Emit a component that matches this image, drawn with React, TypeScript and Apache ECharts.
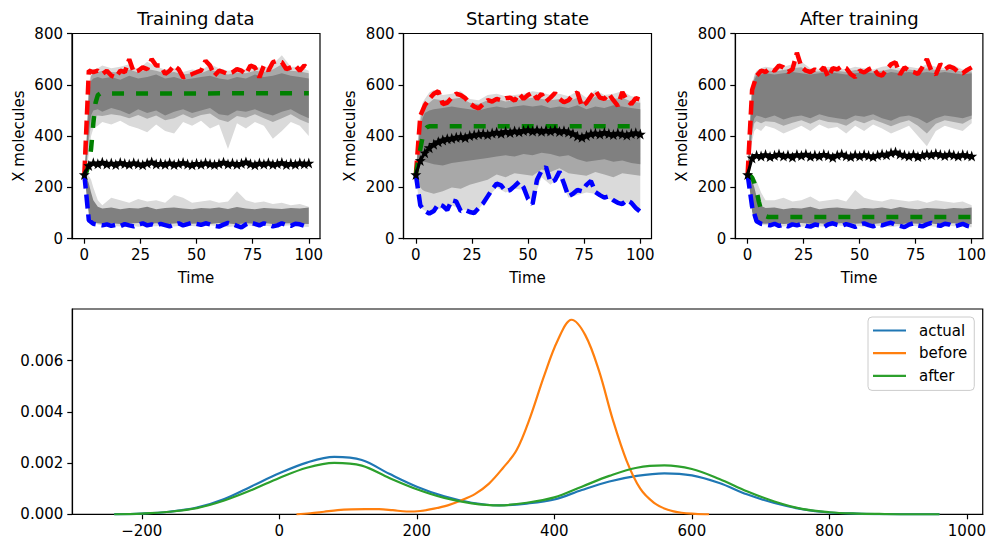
import { useEffect, useRef } from 'react';
import * as echarts from 'echarts';

const FONT = 'DejaVu Sans';

// ---- time grids -------------------------------------------------------------
const TIME = [0, 2, 4, 6, 8, 10, 12, 14, 16, 18, 20, 22, 24, 26, 28, 30, 32, 34, 36, 38, 40, 42, 44, 46, 48, 50, 52, 54, 56, 58, 60, 62, 64, 66, 68, 70, 72, 74, 76, 78, 80, 82, 84, 86, 88, 90, 92, 94, 96, 98, 100];
const BAND_TIME = [0, 1, 2, 3, 4, 6, 8, 12, 16, 20, 24, 28, 32, 36, 40, 44, 48, 52, 56, 60, 64, 68, 72, 76, 80, 84, 88, 92, 96, 100];

const TIME_TICKS = [0, 25, 50, 75, 100];
const MOLECULE_TICKS = [0, 200, 400, 600, 800];

// ---- Training data ------------------------------------------------------------
const TRAIN_MAX = [250, 655, 649, 655, 642, 655, 636, 629, 655, 649, 700, 649, 655, 668, 661, 700, 675, 675, 642, 655, 675, 661, 629, 636, 642, 649, 655, 694, 675, 636, 655, 649, 642, 649, 661, 655, 642, 675, 668, 629, 675, 655, 688, 694, 688, 661, 668, 675, 655, 675, 661];
const TRAIN_MIN = [250, 72, 58, 55, 52, 56, 50, 54, 49, 57, 52, 48, 55, 60, 52, 56, 50, 58, 53, 48, 55, 60, 52, 57, 62, 58, 54, 60, 56, 50, 47, 55, 62, 57, 50, 44, 56, 63, 58, 52, 60, 55, 48, 52, 60, 54, 50, 58, 56, 50, 47];
const TRAIN_MEAN = [250, 285, 296, 292, 298, 291, 295, 289, 297, 293, 290, 296, 292, 288, 295, 299, 291, 294, 290, 296, 289, 293, 297, 291, 288, 294, 290, 296, 292, 289, 293, 298, 291, 295, 290, 294, 299, 292, 288, 295, 291, 296, 290, 293, 297, 289, 294, 290, 296, 292, 295];
const TRAIN_ODE_T = [0, 1, 2, 3, 4, 5, 6, 7, 100];
const TRAIN_ODE = [250, 262, 290, 350, 450, 530, 560, 566, 567];
const TRAIN_UP_OUTER_LO = [250, 270, 330, 400, 430, 440, 455, 445, 460, 440, 430, 415, 445, 420, 410, 455, 440, 460, 430, 445, 350, 450, 430, 455, 440, 390, 420, 455, 440, 400];
const TRAIN_UP_OUTER_HI = [250, 400, 600, 650, 660, 665, 675, 665, 670, 680, 660, 690, 670, 660, 665, 650, 660, 655, 680, 665, 655, 660, 660, 670, 665, 680, 715, 670, 670, 655];
const TRAIN_UP_MID_LO = [250, 285, 380, 450, 475, 480, 478, 485, 480, 470, 482, 468, 480, 462, 470, 485, 470, 482, 488, 465, 455, 478, 472, 485, 470, 455, 470, 485, 465, 450];
const TRAIN_UP_MID_HI = [250, 380, 585, 635, 645, 650, 655, 650, 648, 660, 648, 662, 655, 645, 650, 640, 645, 645, 660, 648, 640, 648, 645, 655, 650, 660, 680, 655, 652, 645];
const TRAIN_UP_CORE_LO = [250, 300, 420, 480, 500, 505, 495, 510, 500, 485, 505, 490, 500, 480, 495, 505, 490, 500, 510, 485, 480, 500, 495, 505, 490, 480, 495, 505, 485, 470];
const TRAIN_UP_CORE_HI = [250, 360, 560, 615, 625, 630, 625, 630, 620, 635, 625, 630, 640, 625, 630, 620, 625, 630, 635, 625, 620, 630, 625, 640, 630, 635, 645, 635, 630, 625];
const TRAIN_DN_OUTER_LO = [250, 200, 110, 75, 62, 55, 52, 50, 48, 52, 47, 50, 49, 53, 48, 51, 50, 47, 52, 49, 46, 50, 53, 48, 51, 47, 50, 52, 48, 46];
const TRAIN_DN_OUTER_HI = [250, 250, 245, 230, 200, 150, 130, 160, 150, 140, 155, 145, 150, 140, 170, 160, 140, 145, 150, 140, 145, 185, 150, 140, 145, 135, 140, 130, 135, 125];
const TRAIN_DN_CORE_LO = [250, 170, 95, 72, 64, 60, 58, 60, 57, 59, 61, 58, 60, 56, 59, 62, 58, 60, 57, 61, 59, 56, 60, 58, 61, 57, 59, 60, 58, 57];
const TRAIN_DN_CORE_HI = [250, 240, 215, 180, 150, 125, 118, 122, 115, 120, 118, 125, 115, 120, 122, 118, 115, 120, 118, 122, 116, 124, 118, 115, 120, 118, 116, 120, 118, 122];

// ---- Starting state -----------------------------------------------------------
const START_MAX = [250, 480, 520, 545, 565, 575, 525, 530, 550, 565, 560, 548, 528, 515, 508, 525, 540, 535, 545, 540, 548, 550, 538, 565, 545, 560, 570, 545, 565, 535, 550, 568, 545, 532, 540, 560, 570, 515, 530, 555, 578, 550, 545, 565, 540, 518, 572, 540, 525, 548, 542];
const START_MIN = [250, 130, 108, 98, 108, 135, 128, 112, 150, 145, 108, 112, 104, 100, 120, 138, 165, 192, 215, 208, 185, 190, 205, 222, 200, 155, 135, 230, 265, 280, 220, 228, 262, 215, 165, 175, 190, 185, 210, 225, 182, 170, 160, 165, 150, 140, 135, 150, 140, 120, 105];
const START_MEAN = [250, 305, 335, 355, 368, 378, 385, 390, 392, 396, 398, 395, 402, 405, 408, 410, 406, 412, 415, 411, 418, 414, 420, 417, 422, 425, 420, 424, 419, 423, 420, 425, 418, 421, 416, 410, 400, 396, 402, 409, 412, 408, 414, 410, 406, 412, 408, 404, 410, 413, 408];
const START_ODE_T = [0, 1, 2, 3, 4, 5, 6, 100];
const START_ODE = [250, 300, 350, 395, 425, 435, 438, 438];
const START_OUTER_LO = [250, 170, 130, 115, 110, 105, 110, 120, 130, 115, 110, 115, 160, 200, 180, 195, 190, 140, 240, 210, 240, 160, 170, 180, 175, 160, 150, 140, 140, 110];
const START_OUTER_HI = [250, 400, 490, 530, 545, 570, 580, 560, 565, 575, 545, 540, 560, 565, 555, 560, 565, 575, 570, 560, 565, 555, 575, 550, 580, 560, 565, 575, 555, 550];
const START_MID_LO = [250, 220, 200, 190, 185, 180, 175, 185, 200, 195, 210, 220, 230, 250, 240, 255, 250, 245, 270, 260, 275, 255, 250, 245, 260, 250, 240, 255, 250, 245];
const START_MID_HI = [250, 380, 460, 500, 515, 530, 545, 540, 545, 550, 530, 525, 540, 545, 535, 540, 545, 550, 545, 540, 545, 535, 550, 530, 555, 540, 545, 550, 535, 530];
const START_CORE_LO = [250, 270, 290, 300, 300, 295, 290, 285, 295, 300, 305, 310, 315, 320, 325, 320, 330, 325, 335, 330, 320, 325, 310, 300, 305, 310, 300, 305, 295, 290];
const START_CORE_HI = [250, 360, 430, 470, 490, 500, 505, 510, 515, 510, 505, 500, 510, 515, 510, 515, 520, 515, 520, 510, 515, 510, 520, 505, 515, 510, 520, 515, 510, 505];

// ---- After training -----------------------------------------------------------
const AFTER_MAX = [250, 580, 635, 655, 650, 665, 655, 675, 668, 650, 660, 725, 670, 655, 650, 660, 650, 668, 630, 665, 660, 672, 665, 642, 630, 655, 648, 660, 668, 642, 636, 660, 680, 688, 640, 668, 655, 650, 642, 668, 700, 655, 640, 681, 660, 672, 665, 650, 645, 658, 668];
const AFTER_MIN = [250, 125, 68, 58, 55, 52, 58, 50, 55, 48, 56, 52, 58, 50, 47, 55, 52, 45, 56, 60, 54, 50, 57, 52, 46, 55, 60, 53, 48, 56, 52, 58, 62, 55, 50, 45, 55, 60, 52, 48, 56, 62, 53, 50, 58, 55, 47, 52, 58, 50, 46];
const AFTER_MEAN = [250, 315, 325, 322, 328, 320, 325, 330, 322, 326, 319, 328, 324, 330, 321, 326, 322, 329, 324, 318, 326, 330, 323, 320, 327, 322, 328, 324, 320, 326, 330, 327, 335, 338, 330, 326, 322, 328, 320, 325, 330, 327, 332, 328, 324, 330, 326, 322, 328, 325, 322];
const AFTER_ODE_T = [0, 1, 2, 3, 4, 5, 6, 7, 8, 9, 100];
const AFTER_ODE = [250, 248, 238, 218, 185, 145, 112, 95, 88, 85, 85];
const AFTER_UP_OUTER_LO = [250, 300, 380, 420, 430, 420, 440, 430, 410, 425, 440, 420, 445, 430, 435, 410, 440, 420, 445, 430, 410, 425, 440, 400, 360, 420, 440, 430, 420, 450];
const AFTER_UP_OUTER_HI = [250, 450, 600, 640, 655, 665, 670, 665, 670, 680, 690, 665, 660, 670, 665, 660, 670, 665, 660, 670, 675, 665, 670, 665, 680, 670, 665, 675, 660, 660];
const AFTER_UP_MID_LO = [250, 310, 410, 450, 458, 450, 458, 455, 440, 452, 462, 448, 465, 455, 452, 440, 462, 450, 465, 452, 438, 452, 462, 440, 410, 448, 462, 455, 448, 468];
const AFTER_UP_MID_HI = [250, 435, 590, 630, 645, 652, 658, 652, 658, 665, 668, 652, 652, 660, 655, 650, 658, 658, 652, 655, 662, 655, 660, 655, 665, 658, 658, 660, 650, 652];
const AFTER_UP_CORE_LO = [250, 320, 430, 470, 480, 475, 470, 480, 465, 475, 480, 470, 485, 475, 470, 465, 480, 475, 485, 470, 460, 475, 480, 470, 450, 470, 480, 475, 470, 480];
const AFTER_UP_CORE_HI = [250, 420, 580, 620, 635, 640, 645, 640, 645, 650, 645, 640, 645, 650, 645, 640, 645, 650, 645, 640, 650, 645, 650, 645, 650, 645, 650, 645, 640, 645];
const AFTER_DN_OUTER_LO = [250, 215, 130, 80, 62, 55, 52, 50, 48, 51, 47, 50, 49, 46, 52, 48, 50, 47, 51, 49, 46, 50, 52, 48, 50, 47, 51, 49, 47, 45];
const AFTER_DN_OUTER_HI = [250, 252, 248, 240, 225, 180, 150, 150, 160, 145, 150, 165, 145, 150, 155, 145, 190, 160, 150, 145, 155, 150, 145, 150, 140, 150, 145, 140, 145, 130];
const AFTER_DN_CORE_LO = [250, 190, 105, 72, 64, 60, 58, 60, 57, 59, 61, 58, 60, 56, 59, 62, 58, 60, 57, 61, 59, 56, 60, 58, 61, 57, 59, 60, 58, 57];
const AFTER_DN_CORE_HI = [250, 245, 228, 200, 165, 128, 120, 122, 115, 120, 118, 125, 115, 120, 122, 118, 115, 120, 118, 122, 116, 124, 118, 115, 120, 118, 116, 120, 118, 122];

// ---- density of the final molecule counts ------------------------------------
const KDE_GRID = [-240, -200, -160, -120, -80, -40, 0, 40, 80, 120, 160, 200, 240, 280, 320, 360, 400, 440, 480, 520, 560, 600, 640, 680, 720, 760, 800, 840, 880, 920, 960];
const KDE_ACTUAL = [0, 0.00003, 0.0001, 0.00026, 0.0006, 0.0011, 0.0016, 0.00202, 0.00224, 0.00212, 0.00158, 0.00108, 0.0007, 0.00045, 0.00035, 0.00042, 0.00058, 0.00095, 0.00128, 0.0015, 0.0016, 0.00152, 0.00122, 0.00078, 0.00044, 0.0002, 0.00007, 0.00003, 0.00001, 0, 0];
const KDE_AFTER = [0, 0.00003, 0.0001, 0.00024, 0.00054, 0.00095, 0.00142, 0.00182, 0.00201, 0.0019, 0.00142, 0.00098, 0.00064, 0.00043, 0.00035, 0.00045, 0.00066, 0.00108, 0.0015, 0.00182, 0.00191, 0.00177, 0.00138, 0.0009, 0.0005, 0.00021, 0.00008, 0.00003, 0.00001, 0, 0];
const KDE_BEFORE_GRID = [25, 45, 65, 85, 105, 125, 145, 165, 185, 205, 225, 245, 265, 285, 305, 325, 345, 365, 385, 405, 425, 445, 465, 485, 505, 525, 545, 565, 585, 605, 625];
const KDE_BEFORE = [0, 0.00004, 0.0001, 0.00016, 0.00019, 0.0002, 0.0002, 0.00016, 0.00011, 0.00013, 0.00022, 0.00035, 0.00055, 0.0008, 0.0012, 0.0018, 0.0025, 0.0038, 0.0054, 0.0068, 0.0076, 0.007, 0.0056, 0.0037, 0.0021, 0.001, 0.00045, 0.00018, 0.00006, 0.00002, 0];
const DENSITY_X_TICKS = [-200, 0, 200, 400, 600, 800, 1000];
const DENSITY_Y_TICKS = [0, 0.002, 0.004, 0.006];

const STAR = 'path://M0,-10L2.35,-3.24L9.51,-3.09L3.8,1.24L5.88,8.09L0,4L-5.88,8.09L-3.8,1.24L-9.51,-3.09L-2.35,-3.24Z';

const LIGHT = '#dadada';
const MID = '#a8a8a8';
const DARK = '#808080';

const zip = (xs: number[], ys: number[]) => xs.map((x, i) => [x, ys[i]]);
const minusFmt = (v: number) => (v < 0 ? '\u2212' + Math.abs(v) : String(v));

function band(idx: number, lo: number[], hi: number[], fill: string) {
  return {
    type: 'custom',
    xAxisIndex: idx,
    yAxisIndex: idx,
    silent: true,
    data: [[0, 0]],
    renderItem: (_p: any, api: any) => {
      const top = BAND_TIME.map((t, i) => api.coord([t, hi[i]]));
      const bottom = BAND_TIME.map((t, i) => api.coord([t, lo[i]])).reverse();
      return { type: 'polygon', shape: { points: top.concat(bottom) }, style: { fill } };
    },
  };
}

function dashed(idx: number, xs: number[], ys: number[], color: string, dash: number[]) {
  return {
    type: 'line',
    xAxisIndex: idx,
    yAxisIndex: idx,
    data: zip(xs, ys),
    symbol: 'none',
    silent: true,
    lineStyle: { color, width: 4.5, type: dash, cap: 'butt' },
  };
}

function meanLine(idx: number, ys: number[]) {
  return {
    type: 'line',
    xAxisIndex: idx,
    yAxisIndex: idx,
    data: zip(TIME, ys),
    symbol: STAR,
    symbolSize: 11,
    showAllSymbol: true,
    silent: true,
    itemStyle: { color: '#000' },
    lineStyle: { color: '#000', width: 3 },
  };
}

const tickLabel = { color: '#000', fontSize: 15, fontFamily: FONT };

function topX(idx: number) {
  return {
    type: 'value',
    gridIndex: idx,
    min: -5.5,
    max: 105,
    name: 'Time',
    nameLocation: 'middle',
    nameGap: 32,
    nameTextStyle: { color: '#000', fontSize: 15, fontFamily: FONT },
    axisLine: { show: true, onZero: false, lineStyle: { color: '#000', width: 1.2 } },
    axisTick: { show: true, length: 5, lineStyle: { color: '#000', width: 1.2 }, customValues: TIME_TICKS },
    axisLabel: { ...tickLabel, margin: 9, customValues: TIME_TICKS },
    splitLine: { show: false },
  };
}

function topY(idx: number) {
  return {
    type: 'value',
    gridIndex: idx,
    min: 0,
    max: 800,
    name: 'X molecules',
    nameLocation: 'middle',
    nameGap: 46,
    nameRotate: 90,
    nameTextStyle: { color: '#000', fontSize: 15, fontFamily: FONT },
    axisLine: { show: true, onZero: false, lineStyle: { color: '#000', width: 1.2 } },
    axisTick: { show: true, length: 5, lineStyle: { color: '#000', width: 1.2 }, customValues: MOLECULE_TICKS },
    axisLabel: { ...tickLabel, margin: 9, customValues: MOLECULE_TICKS },
    splitLine: { show: false },
  };
}

const kde = (name: string, xs: number[], ys: number[], color: string) => ({
  name,
  type: 'line',
  xAxisIndex: 3,
  yAxisIndex: 3,
  data: zip(xs, ys),
  symbol: 'none',
  smooth: 0.35,
  silent: true,
  itemStyle: { color },
  lineStyle: { color, width: 2.2 },
});

const panelTitle = (x: number, text: string) => ({
  type: 'text',
  x,
  y: 18,
  style: { text, fill: '#000', font: `18px "${FONT}"`, textAlign: 'center', textVerticalAlign: 'middle' },
});

export default function App() {
  const ref = useRef<HTMLDivElement>(null);

  useEffect(() => {
    if (!ref.current) return;
    const chart = echarts.init(ref.current, undefined, { renderer: 'svg' });
    const gridBase = { show: true, borderColor: '#000', borderWidth: 1.2, backgroundColor: 'transparent', containLabel: false };

    chart.setOption({
      animation: false,
      backgroundColor: '#fff',
      textStyle: { fontFamily: FONT },
      grid: [
        { ...gridBase, left: 72, top: 33.5, width: 248, height: 205.2 },
        { ...gridBase, left: 403.5, top: 33.5, width: 248, height: 205.2 },
        { ...gridBase, left: 735.3, top: 33.5, width: 248, height: 205.2 },
        { ...gridBase, left: 72.3, top: 309, width: 911, height: 205.3 },
      ],
      xAxis: [
        topX(0),
        topX(1),
        topX(2),
        {
          type: 'value',
          gridIndex: 3,
          min: -301,
          max: 1023,
          axisLine: { show: true, onZero: false, lineStyle: { color: '#000', width: 1.2 } },
          axisTick: { show: true, length: 5, lineStyle: { color: '#000', width: 1.2 }, customValues: DENSITY_X_TICKS },
          axisLabel: { ...tickLabel, margin: 9, customValues: DENSITY_X_TICKS, formatter: minusFmt },
          splitLine: { show: false },
        },
      ],
      yAxis: [
        topY(0),
        topY(1),
        topY(2),
        {
          type: 'value',
          gridIndex: 3,
          min: 0,
          max: 0.00802,
          axisLine: { show: true, onZero: false, lineStyle: { color: '#000', width: 1.2 } },
          axisTick: { show: true, length: 5, lineStyle: { color: '#000', width: 1.2 }, customValues: DENSITY_Y_TICKS },
          axisLabel: { ...tickLabel, margin: 9, customValues: DENSITY_Y_TICKS, formatter: (v: number) => v.toFixed(3) },
          splitLine: { show: false },
        },
      ],
      legend: {
        data: ['actual', 'before', 'after'],
        orient: 'vertical',
        left: 868,
        top: 317,
        icon: 'rect',
        itemWidth: 33,
        itemHeight: 2.2,
        itemGap: 5.7,
        padding: [5, 7, 6, 5],
        borderColor: '#cccccc',
        borderWidth: 1,
        borderRadius: 4,
        backgroundColor: 'rgba(255,255,255,0.8)',
        itemStyle: { borderWidth: 0 },
        textStyle: { color: '#000', fontSize: 15, fontFamily: FONT, lineHeight: 17, padding: [0, 0, 0, 8] },
      },
      graphic: [
        panelTitle(196, 'Training data'),
        panelTitle(527.5, 'Starting state'),
        panelTitle(859.3, 'After training'),
      ],
      series: [
        // Training data
        band(0, TRAIN_UP_OUTER_LO, TRAIN_UP_OUTER_HI, LIGHT),
        band(0, TRAIN_DN_OUTER_LO, TRAIN_DN_OUTER_HI, LIGHT),
        band(0, TRAIN_UP_MID_LO, TRAIN_UP_MID_HI, MID),
        band(0, TRAIN_UP_CORE_LO, TRAIN_UP_CORE_HI, DARK),
        band(0, TRAIN_DN_CORE_LO, TRAIN_DN_CORE_HI, DARK),
        dashed(0, TIME, TRAIN_MAX, '#ff0000', [14, 6]),
        dashed(0, TRAIN_ODE_T, TRAIN_ODE, '#008000', [12, 12]),
        meanLine(0, TRAIN_MEAN),
        dashed(0, TIME, TRAIN_MIN, '#0000ff', [14, 6]),
        // Starting state
        band(1, START_OUTER_LO, START_OUTER_HI, LIGHT),
        band(1, START_MID_LO, START_MID_HI, MID),
        band(1, START_CORE_LO, START_CORE_HI, DARK),
        dashed(1, TIME, START_MAX, '#ff0000', [14, 6]),
        dashed(1, START_ODE_T, START_ODE, '#008000', [12, 12]),
        meanLine(1, START_MEAN),
        dashed(1, TIME, START_MIN, '#0000ff', [14, 6]),
        // After training
        band(2, AFTER_UP_OUTER_LO, AFTER_UP_OUTER_HI, LIGHT),
        band(2, AFTER_DN_OUTER_LO, AFTER_DN_OUTER_HI, LIGHT),
        band(2, AFTER_UP_MID_LO, AFTER_UP_MID_HI, MID),
        band(2, AFTER_UP_CORE_LO, AFTER_UP_CORE_HI, DARK),
        band(2, AFTER_DN_CORE_LO, AFTER_DN_CORE_HI, DARK),
        dashed(2, TIME, AFTER_MAX, '#ff0000', [14, 6]),
        meanLine(2, AFTER_MEAN),
        dashed(2, AFTER_ODE_T, AFTER_ODE, '#008000', [12, 12]),
        dashed(2, TIME, AFTER_MIN, '#0000ff', [14, 6]),
        // densities
        kde('actual', KDE_GRID, KDE_ACTUAL, '#1f77b4'),
        kde('before', KDE_BEFORE_GRID, KDE_BEFORE, '#ff7f0e'),
        kde('after', KDE_GRID, KDE_AFTER, '#2ca02c'),
      ],
    });

    return () => chart.dispose();
  }, []);

  return <div ref={ref} style={{ position: 'absolute', left: 0, top: 0, width: 989, height: 543 }} />;
}
